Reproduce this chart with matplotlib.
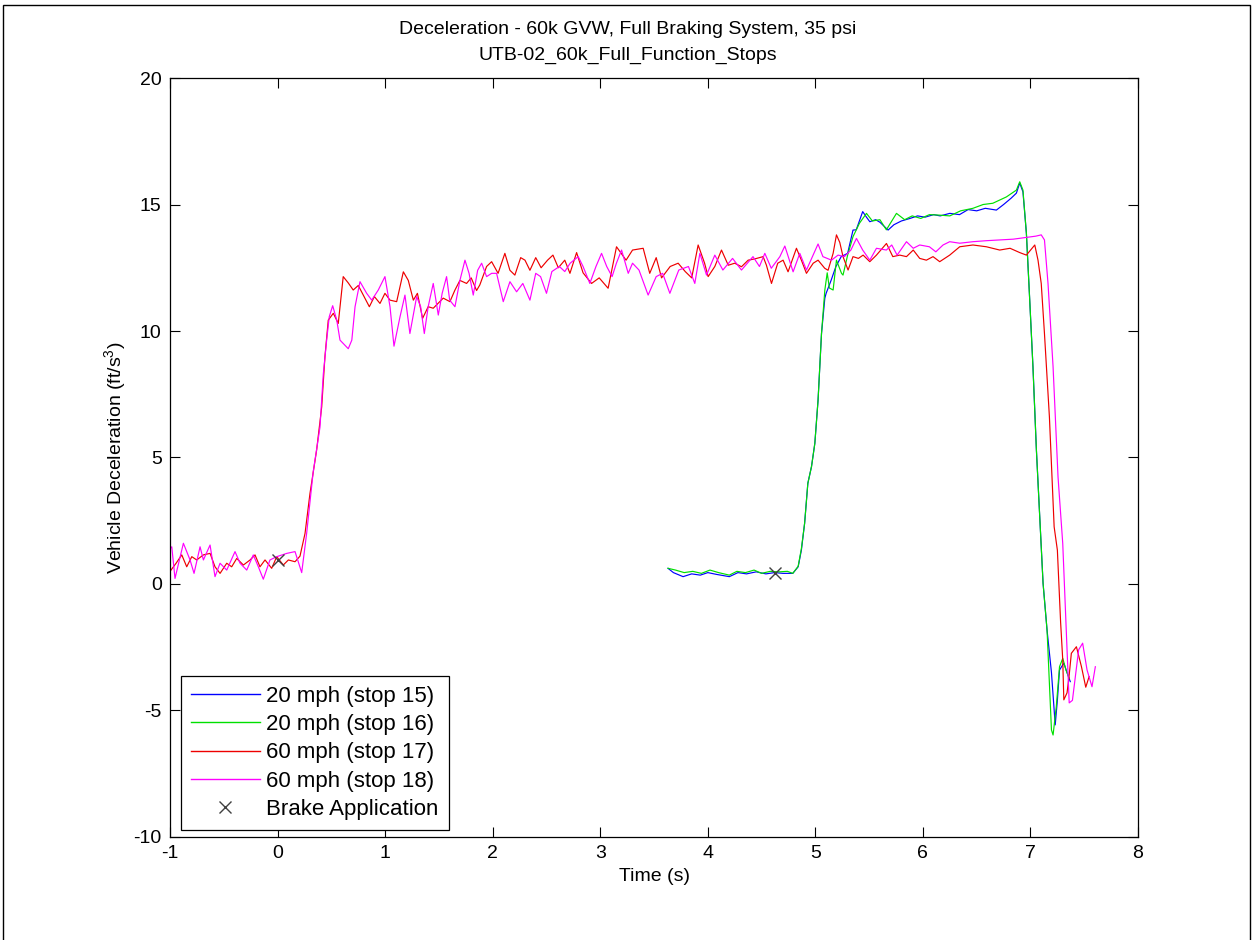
import matplotlib
matplotlib.use("Agg")
import matplotlib.pyplot as plt
from matplotlib.patches import Rectangle

plt.rcParams['font.family'] = ['Liberation Sans', 'DejaVu Sans']
plt.rcParams['mathtext.default'] = 'regular'
plt.rcParams['axes.unicode_minus'] = False

# stop 15 - 20 mph (blue)
t15 = [3.63, 3.68, 3.77, 3.85, 3.93, 4.0, 4.08, 4.2, 4.28, 4.36, 4.45, 4.54, 4.62, 4.7, 4.79,
       4.84, 4.87, 4.9, 4.93, 4.964, 4.995, 5.025, 5.057, 5.088, 5.1, 5.146, 5.19, 5.24, 5.3, 5.35,
       5.38, 5.44, 5.475, 5.506, 5.56, 5.6, 5.676, 5.73, 5.8, 5.88, 5.95, 6.02, 6.1, 6.16, 6.25,
       6.34, 6.42, 6.5, 6.58, 6.683, 6.75, 6.82, 6.869, 6.9, 6.93, 6.962, 6.993, 7.023, 7.055, 7.086,
       7.117, 7.154, 7.195, 7.23, 7.25, 7.27, 7.31, 7.34, 7.37]
v15 = [0.62, 0.45, 0.29, 0.4, 0.35, 0.45, 0.38, 0.29, 0.45, 0.4, 0.48, 0.4, 0.45, 0.42, 0.42,
       0.68, 1.34, 2.4, 3.98, 4.64, 5.56, 7.27, 9.9, 11.3, 11.49, 12.0, 12.54, 12.94, 13.07, 13.99,
       14.0, 14.72, 14.5, 14.32, 14.4, 14.3, 13.99, 14.2, 14.35, 14.45, 14.55, 14.5, 14.6, 14.55, 14.65,
       14.6, 14.8, 14.75, 14.85, 14.78, 15.0, 15.25, 15.45, 15.85, 15.5, 13.86, 11.22, 8.59, 5.3, 2.66,
       0.03, -1.82, -3.5, -5.57, -4.6, -3.4, -3.13, -3.5, -3.86]

# stop 16 - 20 mph (green)
t16 = [3.63, 3.7, 3.78, 3.86, 3.94, 4.02, 4.1, 4.2, 4.27, 4.35, 4.43, 4.5, 4.58, 4.66, 4.74,
       4.79, 4.84, 4.87, 4.9, 4.93, 4.964, 4.995, 5.025, 5.057, 5.088, 5.11, 5.13, 5.165, 5.196, 5.243,
       5.257, 5.3, 5.35, 5.41, 5.475, 5.53, 5.6, 5.66, 5.754, 5.83, 5.9, 5.98, 6.06, 6.156, 6.25,
       6.35, 6.465, 6.56, 6.65, 6.776, 6.869, 6.9, 6.93, 6.962, 6.993, 7.023, 7.055, 7.086, 7.117, 7.154,
       7.195, 7.21, 7.24, 7.27, 7.3, 7.33, 7.36]
v16 = [0.62, 0.55, 0.45, 0.5, 0.42, 0.55, 0.45, 0.35, 0.5, 0.45, 0.55, 0.42, 0.5, 0.48, 0.5,
       0.42, 0.7, 1.4, 2.4, 3.98, 4.64, 5.56, 7.27, 9.9, 11.62, 12.3, 11.7, 11.62, 12.8, 12.28,
       12.21, 13.0, 13.73, 14.26, 14.65, 14.35, 14.4, 14.0, 14.65, 14.4, 14.55, 14.45, 14.6, 14.58, 14.55,
       14.75, 14.85, 15.0, 15.05, 15.3, 15.57, 15.9, 15.57, 13.86, 11.22, 8.59, 5.3, 2.66, 0.03, -1.82,
       -5.77, -5.97, -4.85, -3.27, -2.94, -3.4, -3.73]

# stop 17 - 60 mph (red)
t17 = [-1.0, -0.944, -0.891, -0.845, -0.798, -0.752, -0.69, -0.628, -0.582, -0.535, -0.473, -0.427,
       -0.38, -0.318, -0.256, -0.21, -0.164, -0.117, -0.055, -0.008, 0.053, 0.1, 0.162, 0.208, 0.255,
       0.301, 0.363, 0.41, 0.44, 0.471, 0.518, 0.564, 0.61, 0.657, 0.703, 0.75, 0.797, 0.853, 0.9,
       0.952, 0.998, 1.045, 1.107, 1.169, 1.215, 1.262, 1.3, 1.348, 1.4, 1.447, 1.494, 1.54, 1.602,
       1.649, 1.695, 1.757, 1.8, 1.85, 1.88, 1.943, 1.99, 2.05, 2.113, 2.16, 2.206, 2.26, 2.3, 2.346,
       2.4, 2.45, 2.51, 2.56, 2.61, 2.67, 2.718, 2.78, 2.84, 2.919, 2.99, 3.073, 3.151, 3.24, 3.3,
       3.399, 3.46, 3.52, 3.57, 3.65, 3.724, 3.79, 3.85, 3.91, 3.97, 4.003, 4.065, 4.127, 4.19, 4.25,
       4.313, 4.375, 4.437, 4.514, 4.545, 4.592, 4.65, 4.7, 4.746, 4.824, 4.87, 4.917, 4.98, 5.025,
       5.087, 5.118, 5.165, 5.196, 5.227, 5.257, 5.304, 5.35, 5.4, 5.444, 5.506, 5.568, 5.661, 5.72,
       5.785, 5.847, 5.91, 5.97, 6.032, 6.094, 6.156, 6.249, 6.342, 6.465, 6.59, 6.714, 6.81, 6.9,
       6.962, 7.04, 7.07, 7.1, 7.13, 7.176, 7.22, 7.25, 7.28, 7.3, 7.31, 7.34, 7.36, 7.38, 7.427,
       7.474, 7.514, 7.545]
v17 = [0.5, 0.82, 1.15, 0.68, 1.08, 0.95, 1.15, 1.21, 0.68, 0.42, 0.82, 0.68,
       1.01, 0.75, 0.95, 1.15, 0.68, 0.95, 0.62, 1.08, 0.75, 0.95, 0.88, 1.1, 2.0,
       3.58, 5.3, 7.0, 8.98, 10.43, 10.7, 10.3, 12.15, 11.9, 11.62, 11.8, 11.42, 10.96, 11.36,
       11.09, 11.49, 11.22, 11.16, 12.34, 12.0, 11.22, 11.49, 10.5, 10.96, 10.9, 11.1, 11.3, 11.16,
       11.62, 12.0, 11.88, 12.1, 11.6, 11.82, 12.55, 12.74, 12.28, 13.07, 12.4, 12.21, 12.9, 12.8, 12.4,
       12.9, 12.5, 12.8, 13.0, 12.5, 12.8, 12.28, 13.1, 12.3, 11.88, 12.1, 11.69, 13.33, 12.8, 13.2,
       13.27, 12.28, 12.9, 12.1, 12.55, 12.68, 12.35, 12.1, 13.4, 12.68, 12.15, 12.55, 13.2, 12.6, 12.68,
       12.54, 12.8, 12.85, 12.94, 12.6, 11.88, 12.68, 12.8, 12.34, 13.27, 12.8, 12.28, 12.68, 12.8,
       12.48, 12.4, 13.07, 13.8, 13.5, 12.94, 12.41, 12.94, 12.87, 13.0, 12.74, 13.0, 13.46, 12.94,
       13.0, 12.94, 13.2, 12.87, 12.8, 12.94, 12.74, 13.0, 13.33, 13.4, 13.33, 13.2, 13.27, 13.1,
       13.0, 13.4, 12.8, 11.88, 9.9, 6.6, 2.26, 1.34, -1.5, -3.0, -4.58, -4.3, -3.6, -2.74, -2.48,
       -3.27, -4.08, -3.66]

# stop 18 - 60 mph (magenta)
t18 = [-1.0, -0.984, -0.954, -0.876, -0.814, -0.777, -0.721, -0.69, -0.628, -0.582, -0.535, -0.473,
       -0.396, -0.349, -0.287, -0.226, -0.179, -0.133, -0.071, -0.008, 0.085, 0.162, 0.224, 0.27,
       0.33, 0.348, 0.394, 0.425, 0.456, 0.48, 0.512, 0.55, 0.58, 0.657, 0.69, 0.72, 0.766, 0.828,
       0.875, 0.936, 0.998, 1.045, 1.082, 1.138, 1.184, 1.23, 1.293, 1.33, 1.364, 1.4, 1.447, 1.494,
       1.53, 1.571, 1.6, 1.649, 1.695, 1.742, 1.78, 1.819, 1.86, 1.897, 1.943, 1.99, 2.036, 2.098,
       2.16, 2.222, 2.28, 2.346, 2.4, 2.445, 2.5, 2.55, 2.62, 2.67, 2.72, 2.795, 2.84, 2.903, 2.96,
       3.012, 3.06, 3.11, 3.15, 3.198, 3.26, 3.3, 3.36, 3.445, 3.52, 3.58, 3.647, 3.73, 3.82, 3.879,
       3.926, 3.988, 4.065, 4.14, 4.23, 4.313, 4.42, 4.48, 4.53, 4.59, 4.67, 4.716, 4.793, 4.855,
       4.917, 5.025, 5.07, 5.15, 5.211, 5.27, 5.33, 5.382, 5.44, 5.506, 5.568, 5.66, 5.71, 5.76,
       5.847, 5.91, 5.97, 6.06, 6.12, 6.187, 6.249, 6.342, 6.465, 6.59, 6.714, 6.84, 6.962, 7.05,
       7.1, 7.13, 7.163, 7.21, 7.256, 7.3, 7.333, 7.36, 7.39, 7.417, 7.448, 7.485, 7.526, 7.572, 7.603]
v18 = [1.4, 1.47, 0.22, 1.61, 0.95, 0.42, 1.47, 0.95, 1.54, 0.29, 0.82, 0.55,
       1.28, 0.82, 0.55, 1.15, 0.68, 0.19, 0.95, 1.08, 1.21, 1.28, 0.45, 2.0,
       4.4, 4.9, 6.2, 8.3, 9.64, 10.56, 11.0, 10.43, 9.64, 9.3, 9.64, 10.96, 11.95, 11.49,
       11.22, 11.62, 12.15, 10.96, 9.4, 10.56, 11.42, 9.9, 11.36, 10.96, 9.9, 10.96, 11.88, 10.63,
       11.49, 12.15, 11.22, 10.96, 12.0, 12.8, 12.28, 11.42, 12.4, 12.68, 12.15, 12.28, 12.28, 11.16,
       11.95, 11.55, 11.88, 11.22, 12.28, 12.15, 11.49, 12.35, 12.55, 12.35, 12.68, 12.94, 12.55, 11.88, 12.55,
       13.07, 12.55, 12.15, 12.68, 13.2, 12.28, 12.68, 12.41, 11.42, 12.15, 12.28, 11.49, 12.41, 12.55, 11.88,
       13.07, 12.21, 13.0, 12.41, 12.87, 12.41, 12.94, 12.55, 13.07, 12.48, 12.94, 13.36, 12.34, 13.07,
       12.41, 13.44, 12.94, 12.8, 13.0, 12.94, 13.2, 13.66, 13.2, 12.8, 13.27, 13.2, 13.4, 13.0,
       13.53, 13.27, 13.4, 13.33, 13.13, 13.4, 13.53, 13.47, 13.53, 13.57, 13.6, 13.63, 13.7, 13.75,
       13.8, 13.6, 11.88, 8.59, 4.24, 1.6, -1.82, -4.7, -4.6, -3.66, -2.6, -2.34, -3.4, -4.06, -3.27]

# brake application points
t_brake = [0.0, 4.62]
v_brake = [0.95, 0.45]

labels = ['20 mph (stop 15)', '20 mph (stop 16)', '60 mph (stop 17)', '60 mph (stop 18)',
          'Brake Application']

fig = plt.figure(figsize=(12.55, 9.4), dpi=100)
ax = fig.add_axes([0.1355, 0.1096, 0.7713, 0.8074])

ax.plot(t15, v15, color='#0000ff', lw=0.85, label=labels[0])
ax.plot(t16, v16, color='#00e000', lw=0.85, label=labels[1])
ax.plot(t17, v17, color='#ee0000', lw=0.85, label=labels[2])
ax.plot(t18, v18, color='#ff00ff', lw=0.85, label=labels[3])
ax.plot(t_brake, v_brake, 'x', color='#404040', ms=8, mew=1.0, label=labels[4])

ax.set_xlim(-1, 8)
ax.set_ylim(-10, 20)
ax.set_xticks(range(-1, 9))
ax.set_yticks(range(-10, 21, 5))
ax.tick_params(direction='in', top=True, right=True, length=7, width=0.8, labelsize=14, pad=6)
for s in ax.spines.values():
    s.set_linewidth(0.9)

ax.set_xlabel('Time (s)', fontsize=14)
ax.set_ylabel('Vehicle Deceleration (ft/s$^{3}$)', fontsize=14)

fig.text(0.5, 1 - 30 / 940, 'Deceleration - 60k GVW, Full Braking System, 35 psi',
         ha='center', va='center', fontsize=14)
fig.text(0.5, 1 - 55 / 940, 'UTB-02_60k_Full_Function_Stops', ha='center', va='center', fontsize=14)

leg = ax.legend(loc='lower left', bbox_to_anchor=(0.011, 0.009), borderaxespad=0, fontsize=16,
                fancybox=False, edgecolor='black', framealpha=1, handlelength=3.1,
                handletextpad=0.3, labelspacing=0.33, borderpad=0.45)
leg.get_frame().set_linewidth(0.9)
for h in leg.get_lines()[:4]:
    h.set_linewidth(1.0)

# border round the whole figure
fig.patches.append(Rectangle((3 / 1255, -0.02), 1247 / 1255, 1.02 - 5 / 940, transform=fig.transFigure,
                             fill=False, edgecolor='black', lw=1.0))

fig.savefig('out.png', dpi=100)
